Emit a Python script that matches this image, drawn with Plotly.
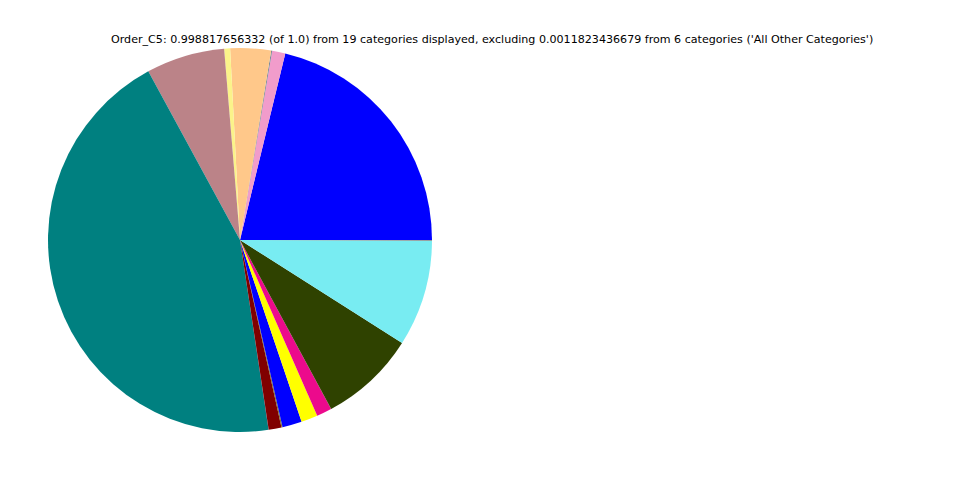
import plotly.graph_objects as go

categories = ["C01", "C02", "C03", "C04", "C05", "C06", "C07", "C08", "C09", "C10",
              "C11", "C12", "C13", "C14", "C15", "C16", "C17", "C18", "C19"]
values = [0.2122, 0.0111, 0.0008, 0.0342, 0.0050, 0.0661, 0.4447, 0.0001, 0.0108, 0.0008,
          0.0001, 0.0164, 0.0139, 0.0128, 0.0001, 0.0812, 0.0894, 0.0001, 0.0006]
colors = ["#0000FF", "#F19CCB", "#708090", "#FFC88A", "#FBF38A", "#BB8388", "#008080", "#4B0082", "#800000", "#7A6A2A",
          "#556B2F", "#0000FF", "#FFFF00", "#EC0A8C", "#8B4513", "#2F4200", "#78ECF2", "#A0A0A0", "#808080"]
title = "Order_C5: 0.998817656332 (of 1.0) from 19 categories displayed, excluding 0.0011823436679 from 6 categories ('All Other Categories')"

first_share = values[0] / sum(values)

fig = go.Figure(go.Pie(
    labels=categories, values=values, sort=False,
    direction="counterclockwise", rotation=90 - first_share * 360,
    marker=dict(colors=colors, line=dict(width=0)),
    textinfo="none", showlegend=False,
    domain=dict(x=[40/960, 424/960], y=[1 - 424/480, 1 - 40/480]),
))
fig.update_layout(
    width=960, height=480,
    margin=dict(l=0, r=0, t=0, b=0),
    paper_bgcolor="white", plot_bgcolor="white",
    annotations=[dict(text=title, x=484/960, y=1 - 32/480, xref="paper", yref="paper",
                      showarrow=False, xanchor="center", yanchor="middle",
                      font=dict(family="DejaVu Sans", size=11.1, color="black"))],
)
fig.write_html("out.html")
